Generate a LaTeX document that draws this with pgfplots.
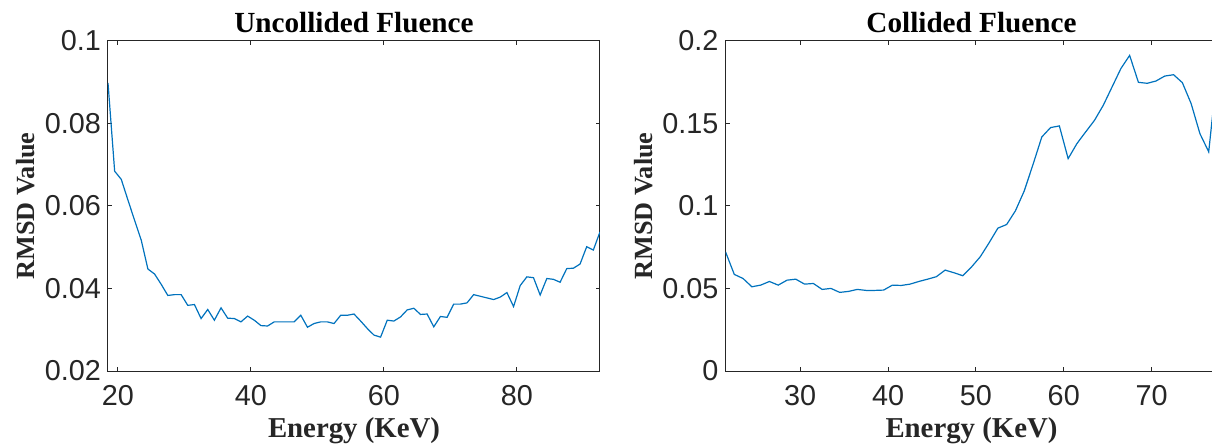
\documentclass[border=0pt]{standalone}
\usepackage{fontspec}
\setmainfont{Liberation Serif}
\newfontfamily\arialf{Liberation Sans}
\usepackage{pgfplots}
\pgfplotsset{compat=1.18}

\definecolor{mblue}{HTML}{0072BD}
\definecolor{axgray}{HTML}{262626}

% MATLAB-like look shared by both panels
\pgfplotsset{
  mat/.style={
    scale only axis,
    width=246pt, height=165.15pt,
    axis line style={axgray, line width=0.5pt},
    tick style={axgray, line width=0.5pt},
    major tick length=2.2pt,
    ticklabel style={font=\arialf\fontsize{14.4}{16}\selectfont, text=axgray},
    xticklabel style={yshift=-3.7pt},
    /pgf/number format/assume math mode=true,
    /pgf/number format/fixed,
    /pgf/number format/precision=2,
    scaled ticks=false,
    title style={font=\bfseries\fontsize{14.6}{17}\selectfont,
      at={(axis description cs:0.5,1)}, anchor=base, yshift=-2pt, inner sep=0pt},
    xlabel style={font=\bfseries\fontsize{14.4}{17}\selectfont, text=axgray,
      at={(axis description cs:0.5,-0.2)}, anchor=base, inner sep=0pt},
    ylabel style={font=\bfseries\fontsize{13.1}{16}\selectfont, text=axgray,
      at={(axis description cs:-0.1488,0.5)}, anchor=base, inner sep=0pt},
    xlabel={Energy (KeV)},
    ylabel={RMSD Value},
  },
  curve/.style={mblue, line width=0.6pt, mark=none},
}

\begin{document}
\begin{tikzpicture}

% ---- left: uncollided fluence
\begin{axis}[mat,
  at={(0pt,0pt)}, anchor=south west,
  title={Uncollided Fluence},
  xmin=18.5, xmax=92.5, ymin=0.02, ymax=0.1,
  xtick={20,40,60,80},
  ytick={0.02,0.04,0.06,0.08,0.1},
]
\addplot[curve] coordinates {
(18.5,0.0898) (19.5,0.0684) (20.5,0.0664) (21.5,0.0614) (22.5,0.0565)
(23.5,0.0517) (24.5,0.0447) (25.5,0.0435) (26.5,0.0410) (27.5,0.0383)
(28.5,0.0385) (29.5,0.0385) (30.5,0.0359) (31.5,0.0361) (32.5,0.0327)
(33.5,0.0349) (34.5,0.0323) (35.5,0.0353) (36.5,0.0328) (37.5,0.0327)
(38.5,0.0319) (39.5,0.0333) (40.5,0.0323) (41.5,0.0310) (42.5,0.0309)
(43.5,0.0319) (44.5,0.0319) (45.5,0.0319) (46.5,0.0319) (47.5,0.0335)
(48.5,0.0306) (49.5,0.0315) (50.5,0.0319) (51.5,0.0319) (52.5,0.0315)
(53.5,0.0335) (54.5,0.0335) (55.5,0.0338) (56.5,0.0321) (57.5,0.0303)
(58.5,0.0287) (59.5,0.0282) (60.5,0.0323) (61.5,0.0321) (62.5,0.0331)
(63.5,0.0348) (64.5,0.0352) (65.5,0.0337) (66.5,0.0338) (67.5,0.0307)
(68.5,0.0332) (69.5,0.0330) (70.5,0.0362) (71.5,0.0362) (72.5,0.0365)
(73.5,0.0385) (74.5,0.0381) (75.5,0.0377) (76.5,0.0373) (77.5,0.0379)
(78.5,0.0390) (79.5,0.0356) (80.5,0.0407) (81.5,0.0428) (82.5,0.0426)
(83.5,0.0384) (84.5,0.0424) (85.5,0.0422) (86.5,0.0415) (87.5,0.0448)
(88.5,0.0449) (89.5,0.0459) (90.5,0.0501) (91.5,0.0493) (92.5,0.0537)
};
\end{axis}

% ---- right: collided fluence (cut at the picture edge, as in the source)
\begin{axis}[mat,
  at={(308.75pt,0pt)}, anchor=south west,
  title={Collided Fluence},
  xmin=21.5, xmax=77.5, ymin=0, ymax=0.2,
  xtick={30,40,50,60,70},
  ytick={0,0.05,0.1,0.15,0.2},
]
\addplot[curve] coordinates {
(21.5,0.0722) (22.5,0.0585) (23.5,0.0560) (24.5,0.0510) (25.5,0.0520)
(26.5,0.0542) (27.5,0.0520) (28.5,0.0550) (29.5,0.0556) (30.5,0.0526)
(31.5,0.0530) (32.5,0.0494) (33.5,0.0500) (34.5,0.0476) (35.5,0.0482)
(36.5,0.0494) (37.5,0.0488) (38.5,0.0488) (39.5,0.0490) (40.5,0.0520)
(41.5,0.0518) (42.5,0.0526) (43.5,0.0542) (44.5,0.0556) (45.5,0.0571)
(46.5,0.0611) (47.5,0.0595) (48.5,0.0577) (49.5,0.0630) (50.5,0.0692)
(51.5,0.0776) (52.5,0.0865) (53.5,0.0887) (54.5,0.0970) (55.5,0.1090)
(56.5,0.1250) (57.5,0.1417) (58.5,0.1474) (59.5,0.1484) (60.5,0.1286)
(61.5,0.1377) (62.5,0.1448) (63.5,0.1518) (64.5,0.1609) (65.5,0.1720)
(66.5,0.1831) (67.5,0.1911) (68.5,0.1748) (69.5,0.1742) (70.5,0.1756)
(71.5,0.1786) (72.5,0.1794) (73.5,0.1746) (74.5,0.1619) (75.5,0.1437)
(76.5,0.1327) (77.5,0.1830)
};
\end{axis}

% page = reference frame (1 px = 0.5 pt)
\pgfresetboundingbox
\useasboundingbox (-54pt,-37pt) rectangle (552pt,185.5pt);
\end{tikzpicture}
\end{document}
